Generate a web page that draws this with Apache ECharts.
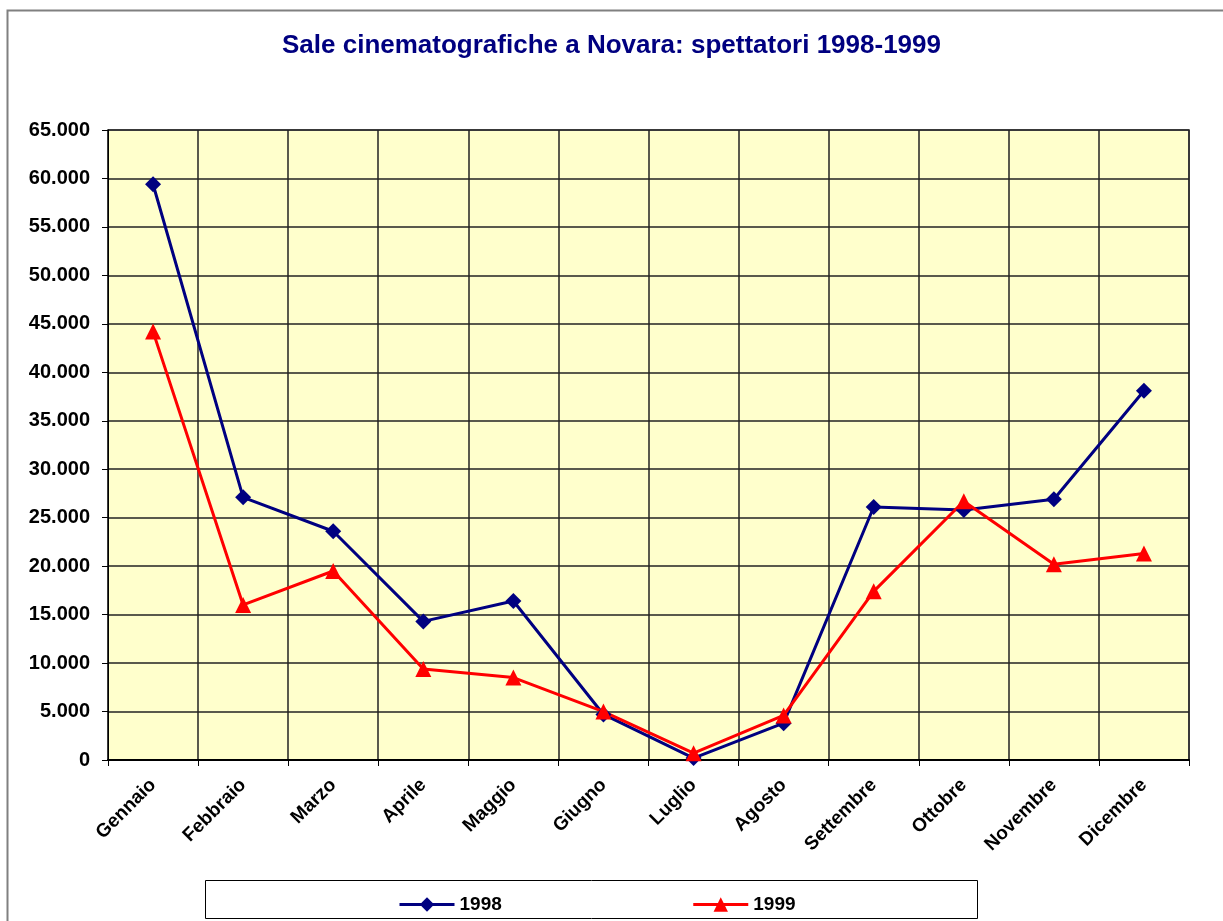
<!DOCTYPE html>
<html>
<head>
<meta charset="utf-8">
<script src="https://cdn.jsdelivr.net/npm/echarts@6/dist/echarts.min.js"></script>
<style>
  html, body { margin: 0; padding: 0; background: #fff; }
  #chart { width: 1223px; height: 921px; }
</style>
</head>
<body>
<div id="chart"></div>
<script>
var months = ["Gennaio", "Febbraio", "Marzo", "Aprile", "Maggio", "Giugno",
  "Luglio", "Agosto", "Settembre", "Ottobre", "Novembre", "Dicembre"];
var spett1998 = [59400, 27100, 23600, 14300, 16400, 4700, 200, 3800, 26100, 25800, 26900, 38100];
var spett1999 = [44200, 16000, 19500, 9400, 8500, 5000, 700, 4600, 17400, 26700, 20200, 21300];

// separatore migliaia col punto
function fmt(v) {
  return String(v).replace(/\B(?=(\d{3})+(?!\d))/g, ".");
}

var myChart = echarts.init(document.getElementById("chart"));
myChart.setOption({
  animation: false,
  backgroundColor: "#fff",
  textStyle: { fontFamily: "Liberation Sans, Arial, sans-serif" },
  title: {
    text: "Sale cinematografiche a Novara: spettatori 1998-1999",
    left: "center",
    top: 28,
    textStyle: { color: "#000080", fontSize: 26, fontWeight: "bold" }
  },
  graphic: [
    {
      type: "rect",
      shape: { x: 7.5, y: 10.5, width: 1240, height: 940 },
      style: { fill: "none", stroke: "#808080", lineWidth: 2 },
      silent: true
    },
    {
      type: "rect",
      shape: { x: 205.5, y: 880.5, width: 772, height: 38 },
      style: { fill: "#fff", stroke: "#000", lineWidth: 1 },
      silent: true,
      z: 0
    }
  ],
  legend: {
    data: ["1998", "1999"],
    left: 393,
    top: 890,
    itemWidth: 55,
    itemHeight: 18,
    itemGap: 190,
    lineStyle: { width: 3 },
    textStyle: { fontSize: 19, fontWeight: "bold", color: "#000" },
    z: 10
  },
  grid: {
    left: 108,
    right: 34,
    top: 130,
    bottom: 161,
    show: true,
    backgroundColor: "#FFFFCC",
    borderColor: "#808080",
    borderWidth: 2
  },
  xAxis: {
    type: "category",
    data: months,
    boundaryGap: true,
    axisLine: { lineStyle: { color: "#000", width: 2 } },
    axisTick: { show: true, length: 6, interval: 0, lineStyle: { color: "#000" } },
    splitLine: { show: true, interval: 0, lineStyle: { color: "#222", width: 1.5 } },
    axisLabel: {
      interval: 0,
      rotate: 45,
      margin: 22,
      fontSize: 19,
      fontWeight: "bold",
      color: "#000"
    }
  },
  yAxis: {
    type: "value",
    min: 0,
    max: 65000,
    interval: 5000,
    axisLine: { show: true, lineStyle: { color: "#000", width: 1 } },
    axisTick: { show: true, length: 6, lineStyle: { color: "#000" } },
    splitLine: { show: true, lineStyle: { color: "#222", width: 1.5 } },
    axisLabel: {
      margin: 18,
      fontSize: 20,
      fontWeight: "bold",
      color: "#000",
      formatter: fmt
    }
  },
  series: [
    {
      name: "1998",
      type: "line",
      data: spett1998,
      symbol: "diamond",
      symbolSize: 16,
      color: "#000080",
      lineStyle: { width: 3, color: "#000080" },
      itemStyle: { color: "#000080" }
    },
    {
      name: "1999",
      type: "line",
      data: spett1999,
      symbol: "triangle",
      symbolSize: 16,
      color: "#FF0000",
      lineStyle: { width: 3, color: "#FF0000" },
      itemStyle: { color: "#FF0000" }
    }
  ]
});
</script>
</body>
</html>
